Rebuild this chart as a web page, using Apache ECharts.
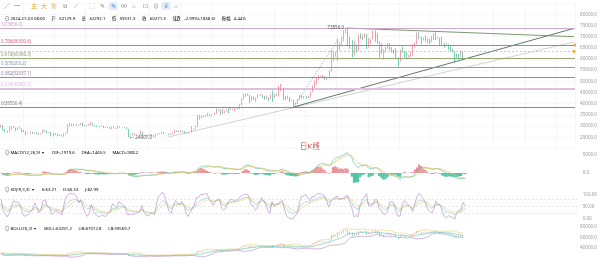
<!DOCTYPE html>
<html><head><meta charset="utf-8">
<script src="https://cdn.jsdelivr.net/npm/echarts@6/dist/echarts.min.js"></script>
<style>html,body{margin:0;padding:0;background:#fff;overflow:hidden}#c{width:600px;height:259px}</style>
</head><body><div id="c"></div>
<script>
// ---- data (2-day candles, prices in thousands USD) ----
const firstOpen = 29.9;
const closes = [
30.4,28.2,27.8,27.5,28.4,29.4,29.2,
28.7,28.9,28.9,27.7,27.6,26.8,26.9,27.0,26.9,27.1,26.8,26.3,26.7,28.1,27.7,
26.8,27.2,25.7,26.3,26.5,25.9,25.9,25.6,26.5,26.8,30.0,30.7,30.5,30.7,30.4,
30.6,31.2,30.5,30.3,30.2,30.6,31.4,30.3,30.1,29.9,29.9,30.1,29.2,29.2,29.4,29.2,
29.7,29.1,29.0,29.8,29.4,29.4,29.4,28.7,26.1,26.2,26.0,26.2,26.0,26.1,27.3,
25.8,25.9,25.8,26.2,25.9,25.2,26.2,26.6,26.5,27.2,26.6,26.6,26.3,26.4,26.9,
28.0,27.4,27.4,27.9,27.6,26.9,26.8,27.2,28.4,28.7,29.9,33.0,34.5,33.9,34.5,34.7,
34.9,35.0,35.0,35.6,37.3,37.1,35.5,36.2,36.6,37.4,37.3,37.7,37.5,37.8,37.7,
39.5,42.0,44.1,44.2,43.8,41.5,43.0,41.9,42.7,43.7,44.0,43.0,42.5,42.6,42.1,
44.2,42.8,44.2,43.9,46.1,46.6,42.8,42.5,42.7,41.6,41.6,39.9,40.0,42.1,43.3,42.6,
43.2,42.6,43.1,45.3,47.1,49.9,51.8,52.1,52.1,52.3,51.3,51.6,54.5,62.4,
62.4,63.1,63.8,67.0,68.3,72.1,73.1,69.5,68.4,61.9,65.5,64.0,69.9,69.5,70.0,71.3,
65.5,68.5,68.9,71.6,70.6,67.1,65.7,63.4,63.5,64.9,66.8,64.3,64.0,63.1,60.7,
59.1,63.9,63.2,61.2,60.8,61.5,61.6,65.2,67.0,71.4,69.2,68.5,69.0,68.4,68.4,
67.8,68.8,71.1,69.4,69.6,67.3,66.8,66.0,66.5,65.0,64.1,63.2,62.0,61.6,60.9,
62.8,60.2715];
const highs = [
30.5,30.4,28.7,28.0,30.0,29.9,30.0,
29.4,29.3,29.8,29.0,28.3,27.6,27.2,27.6,27.5,27.2,27.3,27.0,26.9,28.4,28.4,
27.9,27.4,27.4,27.0,26.8,26.5,26.4,26.1,26.8,27.0,30.8,31.4,31.0,31.0,30.9,
30.8,31.4,31.5,30.6,30.5,31.0,31.8,31.6,30.4,30.2,30.1,30.3,30.2,29.7,29.5,29.5,
29.7,29.8,29.2,30.2,29.9,29.5,29.7,29.5,28.8,26.3,26.8,26.8,26.2,26.2,28.1,
27.5,26.0,26.0,26.4,26.4,26.0,26.5,26.8,26.8,27.4,27.2,26.7,26.6,26.8,27.2,
28.5,28.0,28.0,28.0,28.0,27.7,27.0,27.3,30.0,28.9,30.2,35.0,35.0,34.7,34.7,34.9,
35.9,35.3,35.3,35.9,37.9,37.5,37.4,37.9,36.8,37.6,37.9,38.4,37.8,38.0,38.2,
39.7,42.4,44.5,44.7,44.5,44.0,43.4,43.2,42.8,44.2,44.3,44.0,43.5,43.7,42.9,
44.2,45.9,44.3,44.5,47.9,49.0,46.8,43.3,43.6,42.9,41.9,41.7,40.6,42.2,43.9,43.8,
43.5,43.4,43.5,45.6,48.2,50.4,52.0,52.8,52.4,53.0,52.4,51.9,54.9,64.0,
63.7,63.3,69.2,67.5,69.9,72.9,73.856,73.6,69.9,68.5,68.1,66.6,71.0,71.5,71.0,71.4,
71.3,69.3,69.0,72.7,72.8,71.3,67.9,66.9,64.4,65.5,67.2,67.1,65.3,64.2,64.7,
60.8,64.3,65.5,63.4,63.3,61.8,63.4,66.5,67.4,71.9,71.9,70.0,69.6,70.6,69.5,
68.9,70.3,71.7,72.0,69.9,69.6,70.0,67.3,66.9,66.6,65.7,64.5,63.4,62.4,62.3,
63.8,63.3];
const lows = [
29.3,28.0,27.1,27.0,27.2,28.3,29.0,
27.7,28.1,28.7,27.3,27.3,25.8,26.6,26.6,26.4,26.7,26.5,26.1,26.2,26.6,27.5,
26.6,26.8,25.4,25.4,26.0,25.4,25.6,25.3,25.2,26.2,26.7,29.8,30.0,29.9,30.0,
30.2,30.5,29.9,30.0,29.9,30.1,30.2,30.2,29.7,29.5,29.6,29.7,29.0,29.1,29.1,28.6,
28.6,29.0,28.7,28.9,29.3,29.3,29.1,28.6,24.901,25.8,25.8,25.8,25.9,25.9,25.9,
25.6,25.6,25.4,25.6,25.6,25.0,25.1,26.1,26.3,26.4,26.4,26.5,26.0,26.1,26.3,
26.8,27.2,27.2,27.3,27.3,26.7,26.6,26.8,27.1,28.2,28.6,29.7,32.9,33.5,33.9,34.1,
34.3,34.3,34.5,34.9,35.5,36.8,35.0,35.4,35.9,36.5,35.6,37.2,37.2,36.7,37.5,
37.6,39.2,41.9,43.1,43.6,40.2,41.3,41.7,40.6,42.3,43.5,42.7,41.8,42.1,41.3,
42.0,40.8,42.6,43.6,43.3,45.6,41.5,41.7,42.1,40.7,41.4,38.5504,39.5,39.8,41.9,42.3,
42.2,42.3,42.5,43.0,45.2,47.0,48.4,50.6,51.5,51.3,50.5,50.6,51.3,54.4,
59.0,61.0,59.0,63.8,66.1,67.9,71.3,65.6,64.6,60.8,61.5,62.9,63.7,68.9,68.4,69.4,
64.5,65.1,66.8,68.8,67.5,66.9,60.7,62.3,59.6,63.0,64.5,63.9,62.8,62.4,59.9,
56.6,58.9,62.8,60.8,60.2,60.6,60.8,61.4,65.1,66.6,68.8,66.5,68.3,67.8,67.1,
66.7,67.4,68.5,68.5,69.1,66.1,66.3,65.1,65.7,64.1,63.4,63.0,58.4,60.6,59.9,
60.7,59.5];

const TOTAL = 275;                 // category slots (data + empty right margin)
const lastPrice = 60271.5;
const fibLow = 38550.4, fibHigh = 73856.0;
const fibRatios = [1, 0.786, 0.618, 0.5, 0.382, 0.236, 0];
const alertLevel = 63400;
const kdjLevels = [20, 50, 80];
// trend lines: [candle index, price]
const trendDark  = [[140, 38550], [274, 73700]];
const trendLight = [[80, 25100], [274, 67600]];
const trendDown  = [[165, 73856], [274, 69980]];
const trendDot   = [[140, 38550], [161, 68500]];

const headerDate = '2024-07-03 08:00';
const headerVals = [['开','62129.9'],['高','62292.1'],['低','59531.3'],['收','60271.3'],['涨跌','-2.99%(-1858.6)'],['振幅','4.44%']];
const macdText = ['MACD(12,26,9)', 'DIF:-1919.6', 'DEA:-1465.5', 'MACD:-908.2'];
const kdjText  = ['KDJ(9,3,3)', 'K:63.21', 'D:60.53', 'J:82.99'];
const bollText = ['BOLL(20,2)', 'BOLL:63291.2', 'UB:67012.8', 'LB:59569.7'];

// ---- derived ----
const K = 1000;
const N = closes.length;
const cl = closes.map(v => v * K);
const opens = closes.map((c, i) => (i === 0 ? firstOpen : closes[i - 1]) * K);
const ohlc = closes.map((c, i) => [opens[i], cl[i], lows[i] * K, highs[i] * K]);
const cats = Array.from({length: TOTAL}, (_, i) => String(i));

function ema(arr, n) { const a = 2 / (n + 1); const o = []; arr.forEach((v, i) => o.push(i ? o[i-1] + a * (v - o[i-1]) : v)); return o; }
const e1 = ema(cl, 6), e2 = ema(cl, 13);
const dif = cl.map((_, i) => e1[i] - e2[i]);
const dea = ema(dif, 5);
const hist = dif.map((d, i) => 2 * (d - dea[i]));

const kA = [], dA = [], jA = [];
{ let k = 50, d = 50;
  for (let i = 0; i < N; i++) {
    const s = Math.max(0, i - 4);
    let lo = Infinity, hi = -Infinity;
    for (let t = s; t <= i; t++) { lo = Math.min(lo, lows[t]); hi = Math.max(hi, highs[t]); }
    const rsv = hi === lo ? 50 : (closes[i] - lo) / (hi - lo) * 100;
    k = (2 * k + rsv) / 3; d = (2 * d + k) / 3;
    kA.push(k); dA.push(d); jA.push(3 * k - 2 * d);
  } }
const mid = [], ub = [], lb = [];
for (let i = 0; i < N; i++) {
  const s = Math.max(0, i - 9); const w = cl.slice(s, i + 1);
  const m = w.reduce((a, b) => a + b, 0) / w.length;
  const sd = Math.sqrt(w.reduce((a, b) => a + (b - m) * (b - m), 0) / w.length);
  mid.push(m); ub.push(m + 2 * sd); lb.push(m - 2 * sd);
}
let maxI = 0, minI = 0;
for (let i = 0; i < N; i++) { if (highs[i] > highs[maxI]) maxI = i; if (lows[i] < lows[minI]) minI = i; }

const UP = '#ec7e8d', DOWN = '#3bbb95';
const fibColors = ['#c8a2c4', '#d65f7b', '#8f9e6a', '#8093ad', '#8f7a99', '#dcc0dc', '#7d7d7d'];
const FONT = '"Noto Sans","Noto Sans CJK SC",sans-serif';
const axisLab = (fmt) => ({ show: true, fontSize: 4.6, color: '#9a9a9a', margin: 5, fontFamily: FONT, formatter: fmt, showMinLabel: false, showMaxLabel: false });

const grids = [
  {left: 0, right: 22, top: 3.1, height: 145.3},
  {left: 0, right: 22, top: 137, height: 54},
  {left: 0, right: 22, top: 194.7, height: 23.6},
  {left: 0, right: 22, top: 215.4, height: 45.2}
];
const xAxes = grids.map((g, i) => ({
  type: 'category', gridIndex: i, data: cats, boundaryGap: true,
  axisLine: {show: false}, axisTick: {show: false}, axisLabel: {show: false},
  splitLine: {show: i === 0, interval: (idx) => (idx - 221) % 15 === 0, lineStyle: {color: '#f1f1f1', width: 0.6}}
}));
const yAxes = [
  {gridIndex: 0, position: 'right', min: 20000, max: 85000, interval: 5000, axisLine: {show: false}, axisTick: {show: false},
   axisLabel: axisLab(v => v.toFixed(1)), splitLine: {show: true, lineStyle: {color: '#f4f4f4', width: 0.6}}},
  {gridIndex: 1, position: 'right', min: -5000, max: 10000, interval: 5000, axisLine: {show: false}, axisTick: {show: false},
   axisLabel: axisLab(v => v.toFixed(1)), splitLine: {show: false}},
  {gridIndex: 2, position: 'right', min: 0, max: 100, interval: 50, axisLine: {show: false}, axisTick: {show: false},
   axisLabel: Object.assign(axisLab(v => v.toFixed(2)), {showMinLabel: true, showMaxLabel: true}), splitLine: {show: false}},
  {gridIndex: 3, position: 'right', min: 20000, max: 100000, interval: 20000, axisLine: {show: false}, axisTick: {show: false},
   axisLabel: axisLab(v => v.toFixed(1)), splitLine: {show: false}}
];

const fibMarks = fibRatios.map((r, i) => {
  const v = fibLow + r * (fibHigh - fibLow);
  return { yAxis: v, lineStyle: {color: fibColors[i], width: r === 0.236 ? 1.8 : 0.9, type: 'solid'},
    label: {show: true, position: 'insideStartTop', distance: [1, 1.2], formatter: r + '(' + v.toFixed(1) + ')',
      color: fibColors[i], fontSize: 4.4, fontFamily: FONT} };
});
fibMarks.push({ yAxis: alertLevel, lineStyle: {color: '#f2b64a', width: 0.8, type: [2, 2]}, label: {show: false} });

const trend = (data, color, type, width) => ({
  type: 'line', xAxisIndex: 0, yAxisIndex: 0, data, symbol: 'none', silent: true, z: 3,
  lineStyle: {color, width, type}, clip: false
});

const series = [
  { type: 'line', xAxisIndex: 0, yAxisIndex: 0, data: [], z: 1, silent: true,
    markLine: {symbol: ['none', 'none'], silent: true, animation: false, data: fibMarks} },
  trend(trendLight, '#c6c6c6', 'solid', 0.8),
  trend(trendDark, '#4f6b55', 'solid', 0.9),
  trend(trendDown, '#6f8d60', 'solid', 0.9),
  trend(trendDot, '#8ea3bf', [1.5, 1.5], 0.8),
  { type: 'candlestick', xAxisIndex: 0, yAxisIndex: 0, data: ohlc, barWidth: '60%', z: 5,
    itemStyle: {color: UP, color0: DOWN, borderColor: UP, borderColor0: DOWN, borderWidth: 0.7},
    markPoint: { symbol: 'circle', symbolSize: 0.1, animation: false, data: [
      {coord: [maxI, highs[maxI] * K], label: {show: true, position: 'left', distance: 2, formatter: (highs[maxI] * K).toFixed(1), color: '#555', fontSize: 4.5, fontFamily: FONT}},
      {coord: [minI, lows[minI] * K], label: {show: true, position: 'right', distance: 1, formatter: '← ' + (lows[minI] * K).toFixed(1), color: '#555', fontSize: 4.5, fontFamily: FONT}}
    ]},
    markLine: { symbol: ['none', 'none'], silent: true, animation: false, data: [
      {yAxis: lastPrice, lineStyle: {opacity: 0}, label: {show: true, position: 'end', distance: 2, formatter: lastPrice.toFixed(1),
        backgroundColor: '#1fa57a', color: '#fff', padding: [1.5, 2.5], fontSize: 4.6, fontFamily: FONT}}
    ]}
  },
  { type: 'scatter', xAxisIndex: 0, yAxisIndex: 0, z: 6, silent: true,
    data: [
      {value: [274, fibLow + 0.786 * (fibHigh - fibLow)], symbol: 'triangle', symbolSize: 4, symbolRotate: 90},
      {value: [274, alertLevel], symbol: 'circle', symbolSize: 3.5}
    ], itemStyle: {color: '#f0a324'} },
  // MACD
  { type: 'bar', xAxisIndex: 1, yAxisIndex: 1, barWidth: '100%',
    data: hist.map(v => ({value: v, itemStyle: {color: v >= 0 ? 'rgba(226,120,128,0.8)' : 'rgba(52,184,146,0.85)'}})) },
  { type: 'line', xAxisIndex: 1, yAxisIndex: 1, data: dif, symbol: 'none', lineStyle: {color: '#58c3a4', width: 0.7} },
  { type: 'line', xAxisIndex: 1, yAxisIndex: 1, data: dea, symbol: 'none', lineStyle: {color: '#e6c36a', width: 0.7} },
  // KDJ
  { type: 'line', xAxisIndex: 2, yAxisIndex: 2, data: kA, symbol: 'none', clip: false, lineStyle: {color: '#7cc9b2', width: 0.6},
    markLine: {symbol: ['none', 'none'], silent: true, animation: false, label: {show: false},
      data: kdjLevels.map(v => ({yAxis: v})), lineStyle: {color: '#d9d9d9', type: [2, 2], width: 0.6}} },
  { type: 'line', xAxisIndex: 2, yAxisIndex: 2, data: dA, symbol: 'none', clip: false, lineStyle: {color: '#e3cf7e', width: 0.6} },
  { type: 'line', xAxisIndex: 2, yAxisIndex: 2, data: jA, symbol: 'none', clip: false, lineStyle: {color: '#b27cc6', width: 0.6} },
  // BOLL
  { type: 'candlestick', xAxisIndex: 3, yAxisIndex: 3, data: ohlc, barWidth: '55%',
    itemStyle: {color: UP, color0: DOWN, borderColor: UP, borderColor0: DOWN, borderWidth: 0.5} },
  { type: 'line', xAxisIndex: 3, yAxisIndex: 3, data: mid, symbol: 'none', lineStyle: {color: '#5cc2a6', width: 0.6} },
  { type: 'line', xAxisIndex: 3, yAxisIndex: 3, data: ub, symbol: 'none', lineStyle: {color: '#e6cc7a', width: 0.6} },
  { type: 'line', xAxisIndex: 3, yAxisIndex: 3, data: lb, symbol: 'none', lineStyle: {color: '#b489c8', width: 0.6} }
];

// ---- text overlays ----
const rich = {
  g: {color: '#9a9a9a', fontSize: 4.3, fontFamily: FONT},
  v: {color: '#1fa57a', fontSize: 4.3, fontFamily: FONT},
  t: {color: '#3cb49a', fontSize: 4.3, fontFamily: FONT},
  y: {color: '#d9a929', fontSize: 4.3, fontFamily: FONT},
  p: {color: '#a870c0', fontSize: 4.3, fontFamily: FONT}
};
const paneTitle = (arr, y) => ({
  type: 'text', left: 5, top: y, silent: true,
  style: { text: '{g|◎ ' + arr[0] + '  ▾ }  {t|' + arr[1] + '}  {y|' + arr[2] + '}  {p|' + arr[3] + '}', rich }
});
const headerStr = '{g|⊙ ' + headerDate + '}  ' + headerVals.map(p => '{g|' + p[0] + '} {v|' + p[1] + '}').join('  ');
const tools = [['╱',4,'#777'],['┅',14,'#777'],['主',31,'#e3a21a'],['大',41,'#e3a21a'],['筹',51,'#e3a21a'],['⧉',63,'#888'],['⟋',74,'#888'],
  ['⬚',89,'#888'],['✎',100,'#888'],['✎',111,'#4a7fd6'],['∞',121,'#888'],['⌂',132,'#888'],['⊡',143,'#888'],['⊘',153,'#888'],['⊽',164,'#4a7fd6'],['⌂',174,'#888']];
const graphic = [
  {type: 'rect', shape: {x: 108.5, y: 2, width: 9, height: 8, r: 1}, style: {fill: '#e1eafb'}, silent: true},
  {type: 'rect', shape: {x: 161.5, y: 2, width: 9, height: 8, r: 1}, style: {fill: '#e1eafb'}, silent: true},
  ...tools.map(t => ({type: 'text', left: t[1], top: 3, silent: true, style: {text: t[0], fill: t[2], fontSize: 6, fontFamily: FONT}})),
  {type: 'text', left: 5, top: 13, silent: true, style: {text: headerStr, rich}},
  {type: 'text', left: 300, top: 143, silent: true, style: {text: '日K线', fill: '#c8473f', fontSize: 7.5, fontFamily: FONT}},
  paneTitle(macdText, 146.8),
  paneTitle(kdjText, 183.8),
  paneTitle(bollText, 222.6)
];

const chart = echarts.init(document.getElementById('c'), null, {renderer: 'canvas', devicePixelRatio: 1});
chart.setOption({
  animation: false, backgroundColor: '#fff',
  textStyle: {fontFamily: FONT},
  grid: grids, xAxis: xAxes, yAxis: yAxes, series, graphic
});
</script></body></html>
